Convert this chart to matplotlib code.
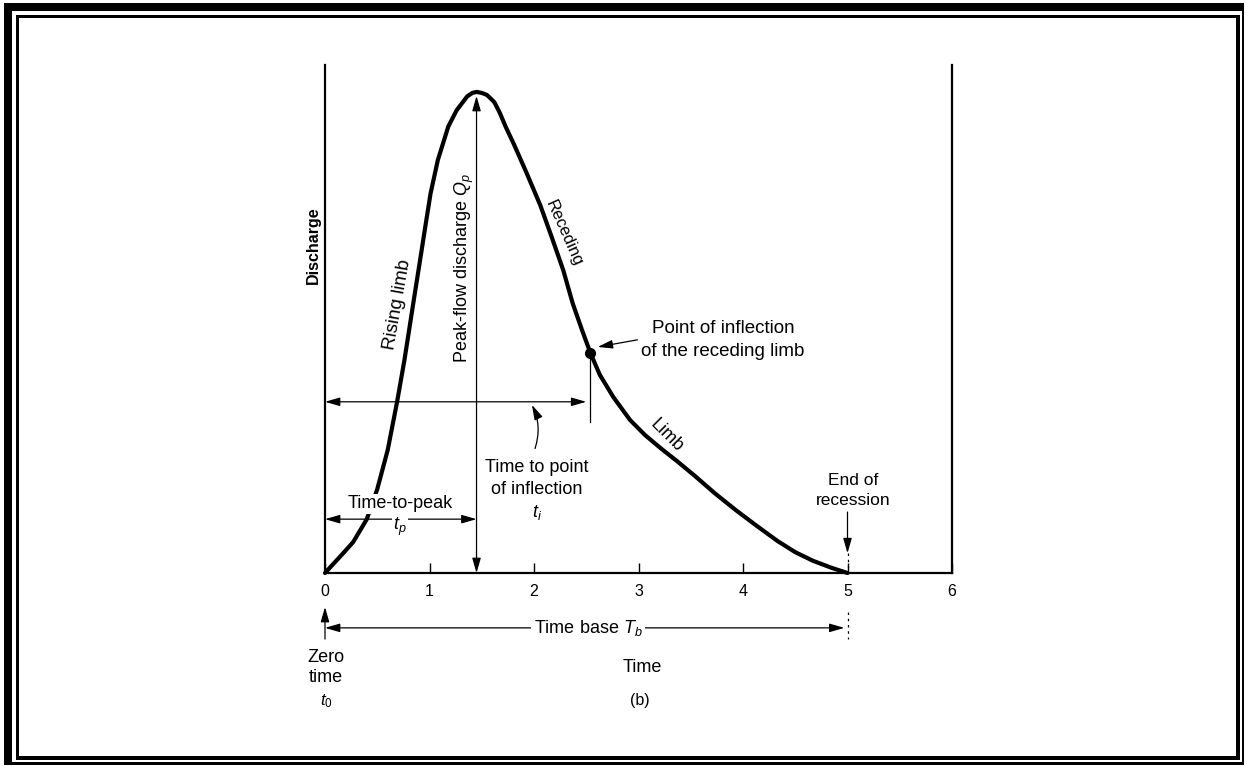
import matplotlib.pyplot as plt
from matplotlib.patches import Rectangle

plt.rcParams['font.family'] = ['Liberation Sans', 'DejaVu Sans']
plt.rcParams['mathtext.fontset'] = 'custom'
plt.rcParams['mathtext.it'] = 'Liberation Sans:italic'
plt.rcParams['mathtext.rm'] = 'Liberation Sans'

# hydrograph (time units, discharge in arbitrary units)
rise_t = [0.0, 0.08, 0.17, 0.27, 0.40, 0.50, 0.60, 0.69, 0.76, 0.81, 0.86, 0.91,
          0.96, 1.01, 1.08, 1.18, 1.26, 1.36, 1.41, 1.45]
rise_q = [0.0, 0.18, 0.38, 0.61, 1.06, 1.65, 2.42, 3.37, 4.19, 4.85, 5.51, 6.16,
          6.82, 7.47, 8.13, 8.79, 9.11, 9.38, 9.45, 9.47]
rec_t = [1.45, 1.50, 1.55, 1.62, 1.67, 1.73, 1.81, 1.93, 2.06, 2.17, 2.28, 2.37,
         2.46, 2.54, 2.63, 2.76, 2.92, 3.06, 3.21, 3.37, 3.54, 3.73, 3.93, 4.13,
         4.33, 4.50, 4.67, 4.85, 5.0]
rec_q = [9.47, 9.45, 9.41, 9.27, 9.07, 8.78, 8.43, 7.87, 7.24, 6.61, 5.96, 5.31,
         4.78, 4.33, 3.90, 3.46, 3.01, 2.72, 2.46, 2.20, 1.91, 1.57, 1.24, 0.93,
         0.63, 0.41, 0.24, 0.10, 0.0]

t_peak = 1.45
q_peak = 9.47
t_infl = 2.54
q_infl = 4.33
t_end = 5.0
time_ticks = [0, 1, 2, 3, 4, 5, 6]

W, H = 1245, 766
fig = plt.figure(figsize=(W / 100, H / 100), dpi=100)


def band(x0, y0, x1, y1):
    # black strip of the page frame, given in pixels from the top-left corner
    fig.add_artist(Rectangle((x0 / W, 1 - y1 / H), (x1 - x0) / W, (y1 - y0) / H,
                             transform=fig.transFigure, color='black', lw=0))


band(4, 3, 1244, 11)
band(4, 3, 12, 765)
band(16, 15, 1240, 18)
band(16, 15, 19, 760)
band(16, 756, 1240, 760)
band(1236, 15, 1240, 760)
band(4, 762, 1244, 765)
band(1242, 3, 1244, 765)

ax = fig.add_axes([325 / W, 1 - 573 / H, 627 / W, 508 / H])
ax.set_xlim(0, 6)
ax.set_ylim(0, 10)
ax.spines['top'].set_visible(False)
for s in ['left', 'bottom', 'right']:
    ax.spines[s].set_linewidth(1.6)
ax.set_yticks([])
ax.set_xticks(time_ticks)
ax.set_xticklabels([str(t) for t in time_ticks])
ax.tick_params(axis='x', direction='in', length=7, width=1, pad=8, labelsize=11.5)

fs = 13

# hydrograph
ax.plot(rise_t + rec_t[1:], rise_q + rec_q[1:], color='black', lw=3,
        solid_capstyle='round', solid_joinstyle='round', clip_on=False, zorder=3)
ax.plot([t_infl], [q_infl], 'o', color='black', ms=7, zorder=4)

head = '<|-|>,head_length=0.45,head_width=0.13'
one = '-|>,head_length=0.45,head_width=0.13'
kw = dict(color='black', lw=0.9, shrinkA=0, shrinkB=0, mutation_scale=20)
white = dict(facecolor='white', edgecolor='none', pad=1)

# peak discharge
ax.annotate('', xy=(t_peak, q_peak - 0.08), xytext=(t_peak, 0),
            arrowprops=dict(arrowstyle=head, **kw))
ax.text(t_peak - 0.12, 6.0, 'Peak-flow discharge $Q_p$', rotation=90,
        ha='center', va='center', fontsize=fs)
ax.text(0.69, 5.28, 'Rising limb', rotation=80, ha='center', va='center',
        fontsize=13.5)
ax.text(2.29, 6.69, 'Receding', rotation=-66, ha='center', va='center',
        fontsize=12)
ax.text(3.27, 2.70, 'Limb', rotation=-45, ha='center', va='center', fontsize=fs)
ax.text(-0.115, 6.46, 'Discharge', rotation=90, ha='center', va='center',
        fontsize=11.5, fontweight='bold', clip_on=False)

# time to inflection
ax.annotate('', xy=(t_infl - 0.04, 3.37), xytext=(0, 3.37),
            arrowprops=dict(arrowstyle=head, **kw))
ax.plot([t_infl, t_infl], [q_infl, 2.97], color='black', lw=0.9)
ax.annotate('', xy=(1.98, 3.31), xytext=(2.01, 2.45),
            arrowprops=dict(arrowstyle=one, connectionstyle='arc3,rad=0.2', **kw))
ax.text(2.03, 2.08, 'Time to point', ha='center', va='center', fontsize=fs)
ax.text(2.03, 1.65, 'of inflection', ha='center', va='center', fontsize=fs)
ax.text(2.03, 1.19, '$t_i$', ha='center', va='center', fontsize=fs)

ax.text(3.81, 4.82, 'Point of inflection', ha='center', va='center', fontsize=13.5)
ax.text(3.81, 4.37, 'of the receding limb', ha='center', va='center', fontsize=13.5)
ax.annotate('', xy=(t_infl + 0.07, 4.45), xytext=(2.99, 4.59),
            arrowprops=dict(arrowstyle=one, **kw))

# time to peak
ax.annotate('', xy=(t_peak, 1.06), xytext=(0, 1.06),
            arrowprops=dict(arrowstyle=head, **kw))
ax.text(0.72, 1.36, 'Time-to-peak', ha='center', va='center', fontsize=fs,
        bbox=white, zorder=5)
ax.text(0.72, 0.91, '$t_p$', ha='center', va='center', fontsize=fs,
        bbox=white, zorder=5)

# end of recession
ax.text(t_end + 0.05, 1.83, 'End of', ha='center', va='center', fontsize=12.5)
ax.text(t_end + 0.05, 1.42, 'recession', ha='center', va='center', fontsize=12.5)
ax.annotate('', xy=(t_end, 0.39), xytext=(t_end, 1.2),
            arrowprops=dict(arrowstyle=one, **kw))
ax.plot([t_end, t_end], [0.39, 0], color='black', lw=0.9,
        linestyle=(0, (2, 3)), clip_on=False)
ax.plot([t_end, t_end], [-0.77, -1.3], color='black', lw=0.9,
        linestyle=(0, (2, 3)), clip_on=False)

# time base
ax.annotate('', xy=(t_end - 0.03, -1.08), xytext=(0, -1.08),
            arrowprops=dict(arrowstyle=head, **kw), annotation_clip=False)
ax.text(2.52, -1.08, 'Time base $T_b$', ha='center', va='center', fontsize=fs,
        bbox=dict(facecolor='white', edgecolor='none', pad=2), clip_on=False)
ax.annotate('', xy=(0, -0.67), xytext=(0, -1.3),
            arrowprops=dict(arrowstyle=one, **kw), annotation_clip=False)
ax.text(0.01, -1.67, 'Zero', ha='center', va='center', fontsize=fs)
ax.text(0.01, -2.05, 'time', ha='center', va='center', fontsize=fs)
ax.text(0.01, -2.52, '$t_0$', ha='center', va='center', fontsize=12)
ax.text(3.04, -1.87, 'Time', ha='center', va='center', fontsize=fs)
ax.text(3.01, -2.5, '(b)', ha='center', va='center', fontsize=11.5)

fig.savefig('out.png', dpi=100)
